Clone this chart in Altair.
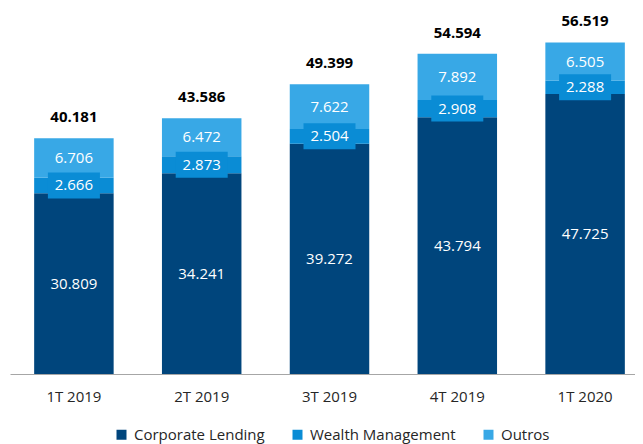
import altair as alt
import pandas as pd

quarters = ["1T 2019", "2T 2019", "3T 2019", "4T 2019", "1T 2020"]
corporate = [30.809, 34.241, 39.272, 43.794, 47.725]
wealth = [2.666, 2.873, 2.504, 2.908, 2.288]
outros = [6.706, 6.472, 7.622, 7.892, 6.505]
totals = [40.181, 43.586, 49.399, 54.594, 56.519]

series = ["Corporate Lending", "Wealth Management", "Outros"]
colors = ["#00457C", "#0A8CD5", "#38A8E6"]

rows = []
for i, q in enumerate(quarters):
    for k, (name, vals) in enumerate(zip(series, [corporate, wealth, outros])):
        rows.append({"quarter": q, "series": name, "value": vals[i], "order": k})
df = pd.DataFrame(rows)
tot_df = pd.DataFrame({"quarter": quarters, "total": totals})

FONT = "Open Sans"

xscale = alt.Scale(paddingInner=0.378, paddingOuter=0.189, range=[0, 639])
x = alt.X("quarter:N", sort=quarters, title=None, scale=xscale,
          axis=alt.Axis(labelAngle=0, ticks=False, tickSize=0, domainColor="#a6a6a6",
                        domainWidth=1, labelFontSize=15, labelFont=FONT,
                        labelColor="#262626", labelPadding=15, grid=False))
yscale = alt.Scale(domain=[0, 62.4], nice=False, zero=True)

base = alt.Chart(df).transform_stack(
    stack="value", groupby=["quarter"], as_=["v0", "v1"],
    sort=[alt.SortField("order", order="ascending")]
).transform_calculate(mid="(datum.v0 + datum.v1) / 2")

bars = base.mark_bar().encode(
    x=x,
    y=alt.Y("v0:Q", scale=yscale, axis=None),
    y2="v1:Q",
    color=alt.Color("series:N", sort=series,
                    scale=alt.Scale(domain=series, range=colors),
                    legend=alt.Legend(title=None, orient="none", direction="horizontal",
                                      legendX=104, legendY=419, padding=0,
                                      symbolType="square", symbolSize=100,
                                      symbolStrokeWidth=0, labelFontSize=15,
                                      labelFont=FONT, labelColor="#262626",
                                      columnPadding=25, labelOffset=5)),
    order=alt.Order("order:Q"),
)

box = base.transform_filter(alt.datum.series == "Wealth Management").mark_point(
    shape="M-1,-0.5L1,-0.5L1,0.5L-1,0.5Z", filled=True, opacity=1,
    color="#0A8CD5", size=2704
).encode(x=alt.X("quarter:N", sort=quarters), y=alt.Y("mid:Q", scale=yscale))

labels = base.mark_text(color="white", fontSize=15, font=FONT, baseline="middle").encode(
    x=alt.X("quarter:N", sort=quarters),
    y=alt.Y("mid:Q", scale=yscale),
    text=alt.Text("value:Q", format=".3f"),
)

tot = alt.Chart(tot_df).mark_text(color="black", fontSize=15, font=FONT,
                                  fontWeight="bold", baseline="middle", dy=-21).encode(
    x=alt.X("quarter:N", sort=quarters),
    y=alt.Y("total:Q", scale=yscale),
    text=alt.Text("total:Q", format=".3f"),
)

chart = alt.layer(bars, box, labels, tot).properties(
    width=625, height=366,
    autosize=alt.AutoSizeParams(type="none"),
    padding={"left": 2, "top": 0, "right": 0, "bottom": 70},
).configure_view(stroke=None)

chart.save("out.html", embed_options={"renderer": "svg", "actions": False})
